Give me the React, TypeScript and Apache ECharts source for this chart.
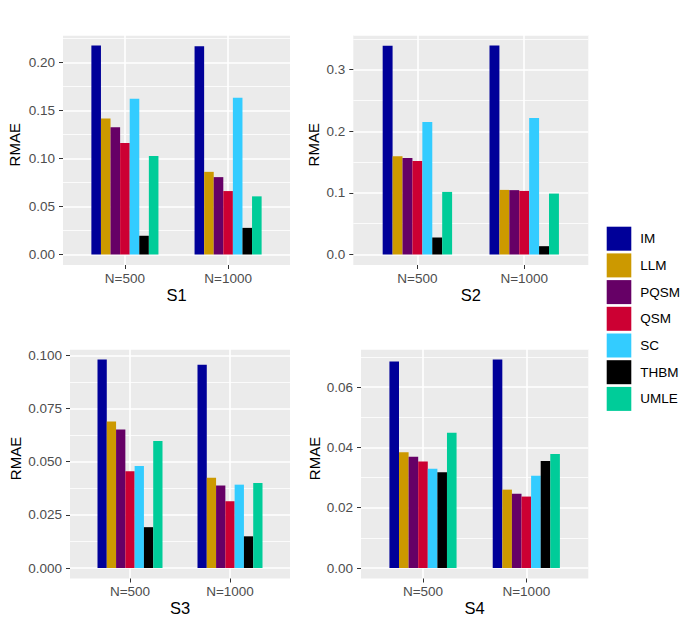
import React, { useEffect, useRef } from "react";
import * as echarts from "echarts";

// ---------- data ----------
const methods = ["IM", "LLM", "PQSM", "QSM", "SC", "THBM", "UMLE"];
const methodColors = ["#000099", "#CC9900", "#660066", "#CC0033", "#33CCFF", "#000000", "#00CC99"];
const sampleSizes = ["N=500", "N=1000"];
const panelNames = ["S1", "S2", "S3", "S4"];

// values per method (IM, LLM, PQSM, QSM, SC, THBM, UMLE)
const s1N500 = [0.2175, 0.1415, 0.1325, 0.116, 0.162, 0.0195, 0.1025];
const s1N1000 = [0.2168, 0.086, 0.0805, 0.066, 0.1632, 0.0277, 0.0605];
const s2N500 = [0.339, 0.1594, 0.1567, 0.1519, 0.2151, 0.0276, 0.1016];
const s2N1000 = [0.3394, 0.1049, 0.1045, 0.1032, 0.2216, 0.0135, 0.0989];
const s3N500 = [0.0981, 0.0689, 0.0651, 0.0455, 0.048, 0.0192, 0.0597];
const s3N1000 = [0.0956, 0.0424, 0.0388, 0.0314, 0.0392, 0.0149, 0.04];
const s4N500 = [0.0685, 0.0384, 0.0369, 0.0353, 0.0329, 0.0318, 0.0449];
const s4N1000 = [0.0692, 0.026, 0.0246, 0.0237, 0.0306, 0.0355, 0.0378];

const panelData = [
  [s1N500, s1N1000],
  [s2N500, s2N1000],
  [s3N500, s3N1000],
  [s4N500, s4N1000],
];

// y-axis tick settings per panel
const yIntervals = [0.05, 0.1, 0.025, 0.02];
const yDecimals = [2, 1, 3, 2];

// ---------- layout ----------
const FONT = "Liberation Sans, Arial, Helvetica, sans-serif";
const W = 688;
const H = 628;
const panelLayout = [
  { left: 63, right: 290, top: 35, zero: 254.5, bottom: 265, nameGap: 41.5 },
  { left: 353.3, right: 588.3, top: 35, zero: 254.5, bottom: 265, nameGap: 32.5 },
  { left: 70, right: 290, top: 349, zero: 568, bottom: 578.5, nameGap: 47.5 },
  { left: 361, right: 588.3, top: 349, zero: 568, bottom: 578.5, nameGap: 39.5 },
];

// discrete x scale: positions 0.4 .. 2.6 in 0.1 steps, categories at 1 and 2
const SLOTS = 23;
const slotOf = (k: number) => 6 + 10 * k;
const slotCats = Array.from({ length: SLOTS }, (_, i) => {
  const k = sampleSizes.findIndex((_, j) => slotOf(j) === i);
  return k >= 0 ? sampleSizes[k] : "slot" + i;
});
const isSlot = (i: number) => sampleSizes.some((_, k) => slotOf(k) === i);

function buildOption() {
  const grid: any[] = [];
  const xAxis: any[] = [];
  const yAxis: any[] = [];
  const series: any[] = [];
  const gridLine = { color: "#FFFFFF", width: 1.6 };

  panelLayout.forEach((L, p) => {
    const vals = panelData[p];
    const dataMax = Math.max(...vals.flat());
    // main grid (zero line to top)
    grid.push({
      left: L.left,
      right: W - L.right,
      top: L.top,
      bottom: H - L.zero,
      show: true,
      backgroundColor: "#EBEBEB",
      borderWidth: 0,
    });
    // strip below zero (ggplot expansion) that carries the x axis
    grid.push({
      left: L.left,
      right: W - L.right,
      top: L.zero,
      bottom: H - L.bottom,
      show: true,
      backgroundColor: "#EBEBEB",
      borderWidth: 0,
    });
    xAxis.push({
      gridIndex: 2 * p,
      type: "category",
      data: slotCats,
      boundaryGap: false,
      axisLine: { show: false },
      axisTick: { show: false },
      axisLabel: { show: false },
      splitLine: { show: true, interval: (i: number) => isSlot(i), lineStyle: gridLine },
    });
    xAxis.push({
      gridIndex: 2 * p + 1,
      type: "category",
      data: slotCats,
      boundaryGap: false,
      axisLine: { show: false },
      axisTick: {
        show: true,
        interval: (i: number) => isSlot(i),
        length: 4,
        lineStyle: { color: "#333333", width: 1 },
      },
      axisLabel: {
        interval: (i: number) => isSlot(i),
        margin: 6,
        color: "#4D4D4D",
        fontSize: 13.5,
        fontFamily: FONT,
      },
      splitLine: { show: true, interval: (i: number) => isSlot(i), lineStyle: gridLine },
      name: panelNames[p],
      nameLocation: "middle",
      nameGap: 21,
      nameTextStyle: { fontSize: 16.5, color: "#000000", fontFamily: FONT },
    });
    yAxis.push({
      gridIndex: 2 * p,
      type: "value",
      min: 0,
      max: dataMax * 1.05,
      interval: yIntervals[p],
      axisLine: { show: false },
      axisTick: { show: true, length: 4, lineStyle: { color: "#333333", width: 1 } },
      axisLabel: {
        margin: 8,
        color: "#4D4D4D",
        fontSize: 13.5,
        fontFamily: FONT,
        showMaxLabel: false,
        formatter: (v: number) => v.toFixed(yDecimals[p]),
      },
      splitLine: { show: true, lineStyle: gridLine },
      minorTick: { show: false, splitNumber: 2 },
      minorSplitLine: { show: true, lineStyle: { color: "#FFFFFF", width: 0.8 } },
      name: "RMAE",
      nameLocation: "middle",
      nameRotate: 90,
      nameGap: L.nameGap,
      nameTextStyle: { fontSize: 15, color: "#000000", fontFamily: FONT },
    });
    yAxis.push({
      gridIndex: 2 * p + 1,
      type: "value",
      min: 0,
      max: 1,
      show: false,
    });
    methods.forEach((m, mi) => {
      const data: any[] = Array(SLOTS).fill("-");
      sampleSizes.forEach((_, k) => {
        data[slotOf(k)] = vals[k][mi];
      });
      series.push({
        type: "bar",
        name: m,
        xAxisIndex: 2 * p,
        yAxisIndex: 2 * p,
        data,
        barWidth: "92.86%",
        barGap: "0%",
        itemStyle: { color: methodColors[mi] },
        emphasis: { disabled: true },
      });
    });
  });

  return {
    animation: false,
    backgroundColor: "#FFFFFF",
    textStyle: { fontFamily: FONT },
    grid,
    xAxis,
    yAxis,
    series,
    legend: {
      data: methods,
      orient: "vertical",
      left: 606.7,
      top: 226.7,
      padding: 0,
      itemWidth: 24.6,
      itemHeight: 24,
      itemGap: 2.7,
      icon: "rect",
      selectedMode: false,
      textStyle: { fontSize: 13.5, color: "#000000", fontFamily: FONT, padding: [3, 0, 0, 4] },
    },
  };
}

export default function App() {
  const ref = useRef<HTMLDivElement>(null);
  useEffect(() => {
    document.body.style.margin = "0";
    if (!ref.current) return;
    const chart = echarts.init(ref.current, undefined, { renderer: "svg" });
    chart.setOption(buildOption() as any);
    return () => chart.dispose();
  }, []);
  return <div ref={ref} style={{ width: W, height: H }} />;
}
